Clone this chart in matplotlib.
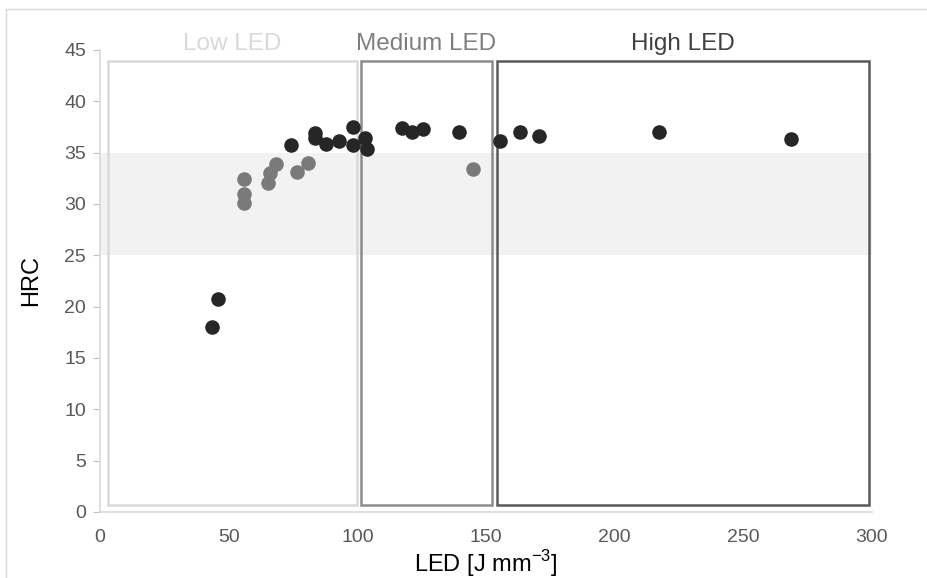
import matplotlib.pyplot as plt
from matplotlib.patches import Rectangle
from matplotlib.lines import Line2D

plt.rcParams["font.family"] = ["Liberation Sans", "DejaVu Sans"]
plt.rcParams["mathtext.fontset"] = "custom"
plt.rcParams["mathtext.rm"] = "Liberation Sans"

# hardness readings, split by marker shade
dark_led = [43.6, 46.0, 74.1, 83.6, 83.6, 87.8, 93.0, 98.4, 98.4, 103.0, 103.9,
            117.3, 121.2, 125.7, 139.5, 155.5, 163.2, 170.6, 217.3, 268.5]
dark_hrc = [18.0, 20.7, 35.7, 36.9, 36.4, 35.8, 36.1, 37.5, 35.7, 36.4, 35.4,
            37.4, 37.0, 37.3, 37.0, 36.1, 37.0, 36.6, 37.0, 36.3]
grey_led = [56.1, 56.1, 56.1, 65.4, 66.1, 68.4, 76.4, 81.0, 145.1]
grey_hrc = [32.4, 31.0, 30.1, 32.0, 33.0, 33.9, 33.1, 34.0, 33.4]

# LED regions
region_names = ["Low LED", "Medium LED", "High LED"]
region_start = [3.1, 101.4, 154.3]
region_end = [99.9, 152.3, 298.9]
region_colors = ["#d9d9d9", "#8c8c8c", "#595959"]
region_text_colors = ["#d9d9d9", "#7f7f7f", "#404040"]

band_low, band_high = 25, 35

fig = plt.figure(figsize=(9.27, 5.78), dpi=100)
ax = fig.add_axes([0.1079, 0.1142, 0.8328, 0.7993])

# figure frame (only top and left are visible in the source)
fig.add_artist(Line2D([6 / 927, 6 / 927], [0, 1 - 9 / 578], transform=fig.transFigure,
                      color="#d9d9d9", lw=1))
fig.add_artist(Line2D([6 / 927, 1], [1 - 9 / 578, 1 - 9 / 578], transform=fig.transFigure,
                      color="#d9d9d9", lw=1))

ax.axhspan(band_low, band_high, color="#f2f2f2", lw=0, zorder=0)

for name, x0, x1, ec, tc in zip(region_names, region_start, region_end,
                                region_colors, region_text_colors):
    ax.add_patch(Rectangle((x0, 0.7), x1 - x0, 43.2, fill=False, ec=ec, lw=1.8, zorder=1))
    ax.text((x0 + x1) / 2, 44.55, name, ha="center", va="bottom", fontsize=17.5,
            color=tc, clip_on=False)

ax.scatter(grey_led, grey_hrc, s=110, color="#7a7a7a", lw=0, zorder=3)
ax.scatter(dark_led, dark_hrc, s=110, color="#262626", lw=0, zorder=3)

ax.set_xlim(0, 300)
ax.set_ylim(0, 45)
ax.set_xticks(range(0, 301, 50))
ax.set_yticks(range(0, 46, 5))
ax.set_xlabel("LED [J mm$^{\\mathregular{-3}}$]", fontsize=17, color="#000000", labelpad=2)
ax.set_ylabel("HRC", fontsize=17, color="#000000", labelpad=16)

for side in ["top", "right"]:
    ax.spines[side].set_visible(False)
for side in ["left", "bottom"]:
    ax.spines[side].set_color("#d9d9d9")
    ax.spines[side].set_linewidth(1.2)

ax.tick_params(axis="y", length=5, color="#bfbfbf", labelcolor="#595959", labelsize=14, pad=5)
ax.tick_params(axis="x", length=0, labelcolor="#595959", labelsize=14, pad=12)

plt.savefig("out.png", dpi=100)
plt.close()
